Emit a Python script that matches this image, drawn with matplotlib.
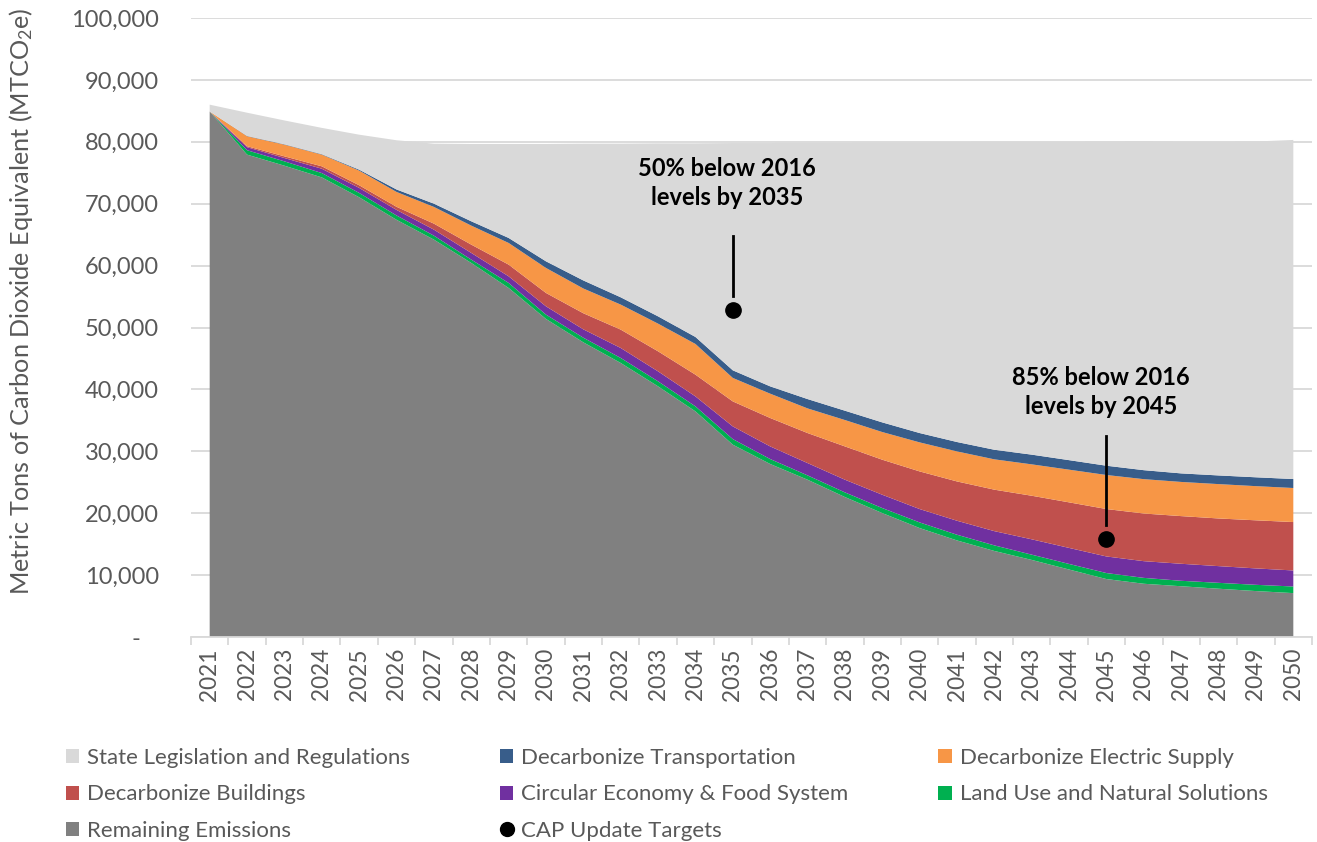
import matplotlib
matplotlib.use("Agg")
import matplotlib.pyplot as plt
from matplotlib.patches import Patch
from matplotlib.lines import Line2D
from matplotlib.ticker import FuncFormatter, MultipleLocator

plt.rcParams['font.family'] = ['Lato', 'DejaVu Sans']
plt.rcParams['mathtext.fontset'] = 'custom'
plt.rcParams['mathtext.rm'] = 'Lato'
plt.rcParams['mathtext.it'] = 'Lato:italic'
plt.rcParams['mathtext.bf'] = 'Lato:bold'

years = [str(y) for y in range(2021, 2051)]

remaining = [84900, 77930, 76140, 74250, 71040, 67400, 64200, 60430, 56390, 51380,
             47600, 44270, 40490, 36450, 31070, 27950, 25410, 22610, 20020, 17600,
             15600, 13900, 12450, 10900, 9360, 8600, 8200, 7800, 7420, 7090]
land_use = [0, 710, 700, 700, 700, 700, 640, 540, 810, 700,
            750, 810, 810, 810, 900, 800, 700, 750, 810, 910,
            920, 900, 850, 900, 970, 950, 880, 950, 1010, 1070]
circular = [0, 490, 540, 700, 810, 900, 970, 1080, 1070, 1340,
            1350, 1610, 1610, 1610, 2050, 2040, 1990, 2050, 2150, 2160,
            2260, 2300, 2480, 2590, 2680, 2700, 2750, 2700, 2650, 2590]
buildings = [0, 160, 270, 390, 430, 500, 970, 1340, 1890, 2160,
             2600, 2970, 3240, 3510, 4040, 4590, 4850, 5380, 5660, 6080,
             6350, 6700, 7040, 7360, 7660, 7700, 7700, 7700, 7770, 7820]
electric = [0, 1610, 1890, 1890, 2370, 2400, 2700, 3070, 3500, 4040,
            4000, 4040, 4470, 4960, 3790, 3930, 3980, 4260, 4470, 4690,
            4850, 4900, 5070, 5280, 5500, 5550, 5520, 5550, 5520, 5500]
transport = [0, 50, 60, 70, 150, 400, 530, 700, 810, 1070,
             1300, 1180, 1180, 1130, 1230, 1180, 1510, 1510, 1560, 1510,
             1520, 1550, 1570, 1540, 1500, 1450, 1380, 1400, 1430, 1450]
state_leg = [1100, 3750, 3850, 4250, 5650, 7950, 9690, 12490, 15180, 18960,
             22100, 24820, 27950, 31280, 36720, 39310, 41410, 43290, 45230, 46950,
             48450, 49750, 50540, 51430, 52380, 53150, 53570, 53900, 54250, 54780]

target_years = ["2035", "2045"]
target_values = [52800, 15800]
target_labels = ["50% below 2016\nlevels by 2035", "85% below 2016\nlevels by 2045"]
leader_tops = [64800, 32500]
label_centers = [73400, 39600]

series_names = ["Remaining Emissions", "Land Use and Natural Solutions",
                "Circular Economy & Food System", "Decarbonize Buildings",
                "Decarbonize Electric Supply", "Decarbonize Transportation",
                "State Legislation and Regulations"]
colors = ["#808080", "#00b050", "#7030a0", "#c0504d", "#f79646", "#385d8a", "#d9d9d9"]

fig = plt.figure(figsize=(13.17, 8.42), dpi=100)
ax = fig.add_axes([191 / 1317, 1 - 637 / 842, (1312 - 191) / 1317, (637 - 18) / 842])

x = list(range(len(years)))
data = [remaining, land_use, circular, buildings, electric, transport, state_leg]
ax.stackplot(x, *data, colors=colors, linewidth=0, zorder=2)

# targets
for ty, tv, tl, lt, lc in zip(target_years, target_values, target_labels, leader_tops, label_centers):
    xi = years.index(ty)
    ax.plot([xi], [tv], 'o', color='black', markersize=11, zorder=5)
    ax.plot([xi, xi], [tv + 2300, lt], color='black', lw=2, zorder=5)
    ax.text(xi - 0.15, lc, tl, ha='center', va='center', fontsize=17,
            fontweight='bold', color='black', linespacing=1.3, zorder=6)

ax.set_xlim(-0.5, len(years) - 0.5)
ax.set_ylim(0, 100000)
ax.yaxis.set_major_locator(MultipleLocator(10000))
ax.yaxis.set_major_formatter(FuncFormatter(lambda v, p: "-   " if v == 0 else f"{int(v):,}"))
ax.grid(axis='y', color='#d9d9d9', linewidth=1.3, zorder=0)
ax.set_axisbelow(True)
for s in ['top', 'right', 'left']:
    ax.spines[s].set_visible(False)
ax.spines['bottom'].set_color('#d9d9d9')
ax.spines['bottom'].set_linewidth(1.3)
ax.spines['bottom'].set_zorder(3)

ax.set_xticks(x)
ax.set_xticklabels(years, rotation=90)
ax.set_xticks([i - 0.5 for i in range(len(years) + 1)], minor=True)
ax.tick_params(axis='x', which='major', length=0, pad=8, labelsize=16.3, labelcolor='#595959')
ax.tick_params(axis='x', which='minor', length=6, width=1.3, color='#d9d9d9')
ax.tick_params(axis='y', length=0, pad=23, labelsize=17, labelcolor='#595959')

ax.set_ylabel("Metric Tons of Carbon Dioxide Equivalent (MTCO$_\\mathregular{2}$e)",
              fontsize=18.2, color='#595959')
ax.yaxis.set_label_coords(-0.139, 0.542)

handles = {n: Patch(facecolor=c, edgecolor='none') for n, c in zip(series_names, colors)}
cap = Line2D([], [], marker='o', color='black', linestyle='none', markersize=10)
order = ["State Legislation and Regulations", "Decarbonize Buildings", "Remaining Emissions",
         "Decarbonize Transportation", "Circular Economy & Food System", "CAP Update Targets",
         "Decarbonize Electric Supply", "Land Use and Natural Solutions"]
hl = [cap if n == "CAP Update Targets" else handles[n] for n in order]
fig.legend(hl, order, loc='upper left', bbox_to_anchor=(66 / 1317, 1 - 748 / 842), ncol=3,
           frameon=False, fontsize=16, labelcolor='#595959', handlelength=0.6,
           handleheight=0.6, handletextpad=0.35, columnspacing=4.05, labelspacing=0.74,
           borderpad=0, borderaxespad=0)

fig.savefig("out.png", dpi=100)
